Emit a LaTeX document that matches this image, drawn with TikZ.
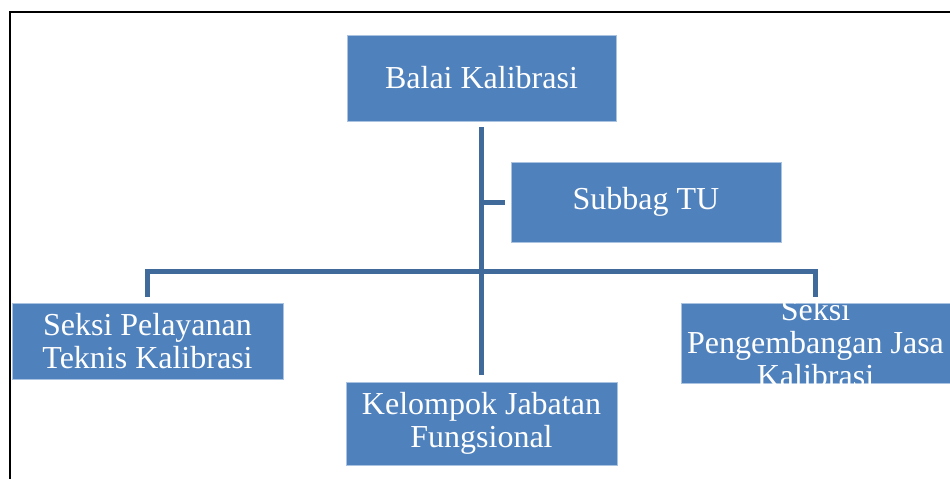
\documentclass[tikz,border=0pt]{standalone}
\usepackage{fontspec}
\setmainfont{Liberation Serif}
\definecolor{boxblue}{RGB}{79,129,189}
\definecolor{boxedge}{RGB}{170,195,225}
\definecolor{linkblue}{RGB}{64,106,153}
\tikzset{
  orgbox/.style={rectangle, fill=boxblue, draw=boxedge, line width=0.6pt, inner sep=0pt,
    text=white, align=center, font=\fontsize{32}{33}\selectfont},
  orgtext/.style={inner sep=0pt, text=white, align=center, font=\fontsize{32}{33}\selectfont},
  conn/.style={draw=linkblue, line width=5pt, line cap=butt},
  frameline/.style={draw=black, line width=2pt}
}
\begin{document}
\begin{tikzpicture}[x=1pt,y=-1pt]
\useasboundingbox (0,0) rectangle (950,479);
\fill[white] (0,0) rectangle (950,479);
% frame
\coordinate (f1) at (10,479);
\coordinate (f2) at (10,12);
\coordinate (f3) at (950,12);
\draw[frameline] (f1) -- (f2) -- (f3);
% nodes
\node[orgbox, minimum width=269pt, minimum height=86pt] (balai) at (481.5,78) {Balai Kalibrasi};
\node[orgbox, minimum width=270pt, minimum height=80pt] (subbag) at (646,202) {Subbag TU};
\node[orgbox, minimum width=271pt, minimum height=76pt] (left) at (147.5,341) {Seksi Pelayanan\\Teknis Kalibrasi};
\node[orgbox, minimum width=269pt, minimum height=80pt] (right) at (815.5,343) {};
\begin{scope}
  \clip (right.south west) rectangle (right.north east);
  \node[orgtext] (righttext) at (right.center) {Seksi\\Pengembangan Jasa\\Kalibrasi};
\end{scope}
\node[orgbox, minimum width=271pt, minimum height=83pt] (kel) at (481.5,423.5) {Kelompok Jabatan\\Fungsional};
% connectors
\coordinate (bus) at (481.5,271);
\draw[conn, shorten <=6pt, shorten >=7pt] (balai.south) -- (kel.north);
\draw[conn, shorten >=6pt] (subbag.west -| balai.south) -- (subbag.west);
\draw[conn, line join=miter] ([yshift=6pt]left.north) |- (bus) -| ([yshift=6pt]right.north);
\end{tikzpicture}
\end{document}
